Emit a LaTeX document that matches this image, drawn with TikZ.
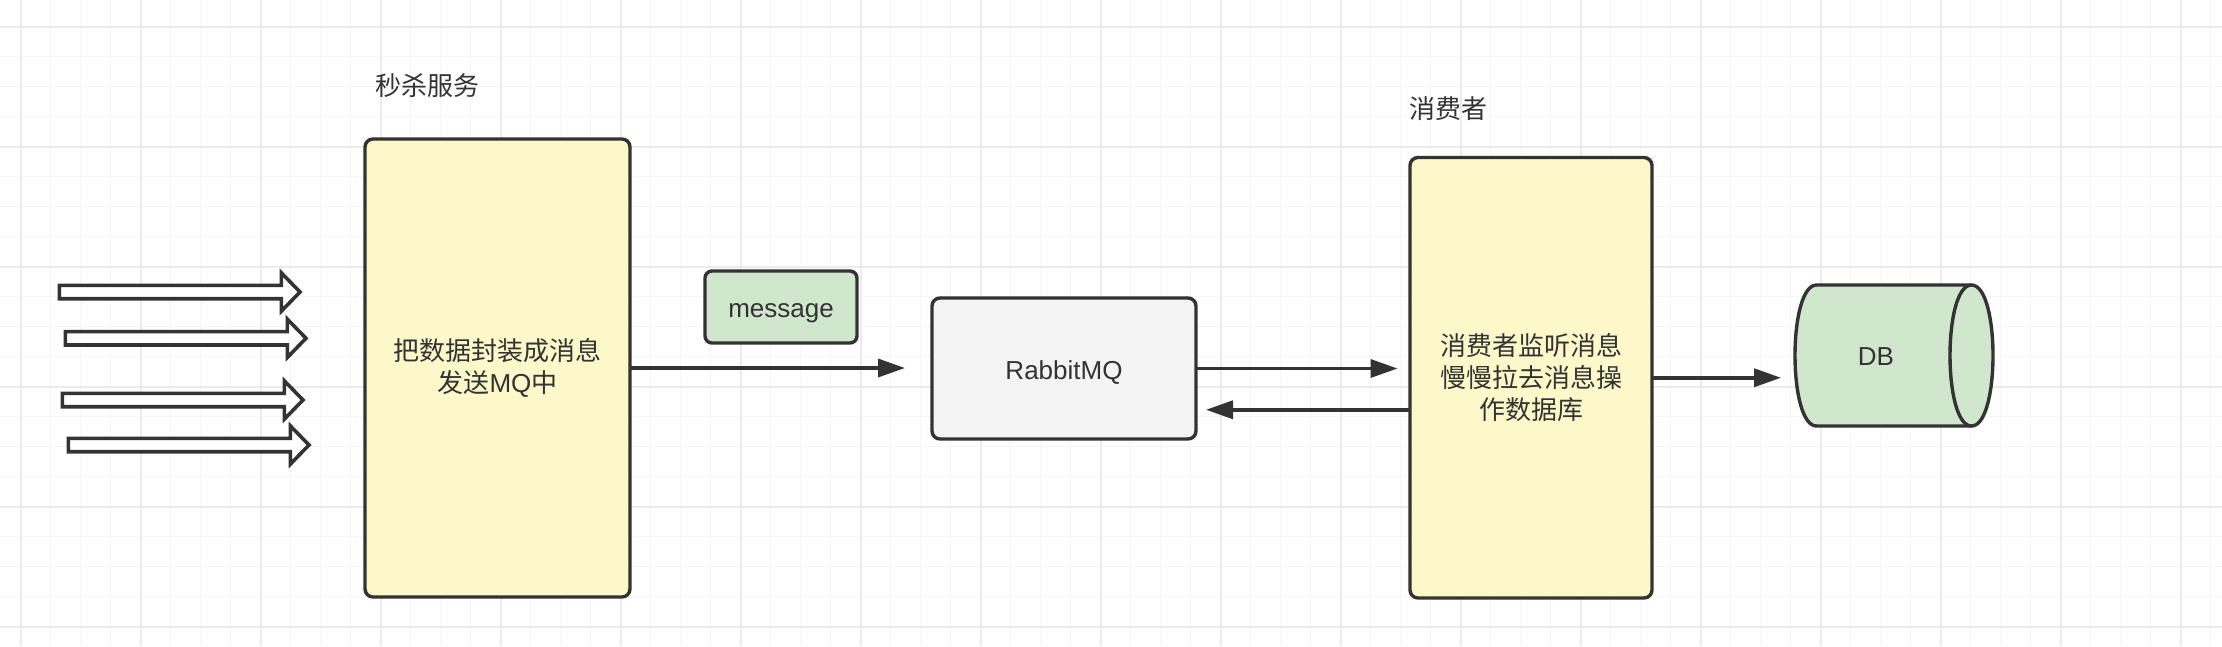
\documentclass[tikz,border=0pt]{standalone}
\usepackage{fontspec}
\setmainfont{Liberation Sans}
\newfontfamily\cjk{Noto Sans CJK SC}
\usetikzlibrary{arrows.meta}
\definecolor{ink}{HTML}{333333}
\definecolor{boxyellow}{HTML}{FCF8C9}
\definecolor{boxgreen}{HTML}{D0E6CD}
\definecolor{boxgrey}{HTML}{F4F4F4}
\definecolor{gridminor}{HTML}{F5F5F5}
\definecolor{gridmajor}{HTML}{EBEBEB}
\begin{document}
\begin{tikzpicture}[x=1pt,y=-1pt,
  gminor/.style={draw=gridminor, line width=1.4pt},
  gmajor/.style={draw=gridmajor, line width=1.8pt},
  box/.style={draw=ink, line width=3.4pt, rounded corners=8pt, inner sep=0pt, outer sep=0pt, text=ink, align=center, font=\cjk\fontsize{26}{32}\selectfont},
  latinbox/.style={box, font=\fontsize{26}{32}\selectfont, text height=26.5pt, text depth=5.5pt},
  lbl/.style={text=ink, inner sep=0pt, font=\cjk\fontsize{26}{32}\selectfont},
  conn/.style={draw=ink, line width=3.5pt, -{Triangle[length=27pt,width=18pt]}},
  blockarrow/.style={draw=ink, fill=white, line width=3.6pt},
  cyl/.style={draw=ink, line width=3.4pt, fill=boxgreen}
]
\useasboundingbox (0,0) rectangle (2222,646);
\fill[white] (0,0) rectangle (2222,646);
% grid
\foreach \i in {0,...,73} \draw[gminor] ({20.7+30*\i},0) -- ({20.7+30*\i},646);
\foreach \j in {0,...,20} \draw[gminor] (0,{26.7+30*\j}) -- (2222,{26.7+30*\j});
\foreach \i in {0,...,18} \draw[gmajor] ({20.7+120*\i},0) -- ({20.7+120*\i},646);
\foreach \j in {0,...,5} \draw[gmajor] (0,{26.7+120*\j}) -- (2222,{26.7+120*\j});

% incoming block arrows
\foreach \L/\Y in {59.3/292, 65.3/338.3, 62.3/400, 68.3/445} {
  \draw[blockarrow] (\L,\Y-6.7) -- (\L+222,\Y-6.7) -- (\L+222,\Y-19.2) -- (\L+240.7,\Y)
     -- (\L+222,\Y+19.2) -- (\L+222,\Y+6.7) -- (\L,\Y+6.7) -- cycle;
}

% titles
\node[lbl] (t1) at (427,86) {秒杀服务};
\node[lbl] (t2) at (1448,109) {消费者};

% boxes
\node[box, fill=boxyellow, minimum width=265pt, minimum height=458pt] (A) at (497.5,368) {把数据封装成消息\\发送{\rmfamily MQ}中};
\node[latinbox, fill=boxgreen, rounded corners=7pt, minimum width=152pt, minimum height=72pt] (msg) at (781,307) {message};
\node[latinbox, fill=boxgrey, minimum width=264pt, minimum height=141pt] (R) at (1064,368.5) {RabbitMQ};
\node[box, fill=boxyellow, minimum width=242pt, minimum height=440.5pt] (C) at (1531,377.75) {消费者监听消息\\慢慢拉去消息操\\作数据库};

% database cylinder
\node[inner sep=0pt, outer sep=0pt, minimum width=198pt, minimum height=141pt] (DB) at (1894,355.5) {};
\path[cyl] (1816.5,285) -- (1971.5,285) .. controls (2000.17,285) and (2000.17,426) .. (1971.5,426) -- (1816.5,426) .. controls (1787.83,426) and (1787.83,285) .. (1816.5,285) -- cycle;
\draw[draw=ink, line width=3.4pt] (1971.5,285) .. controls (1942.83,285) and (1942.83,426) .. (1971.5,426);
\node[lbl, font=\fontsize{26}{32}\selectfont] (DBt) at (1876,357) {DB};

% connectors
\draw[conn, shorten >=27pt] (A.east) -- (A.east -| R.west);
\draw[conn, shorten >=12.5pt] (R.east) -- (R.east -| C.west);
\draw[conn, shorten >=10pt] ([yshift=-32pt]C.west) -- ([yshift=-32pt]C.west -| R.east);
\draw[conn, shorten >=14pt] (C.east) -- (C.east -| DB.west);
\end{tikzpicture}
\end{document}
